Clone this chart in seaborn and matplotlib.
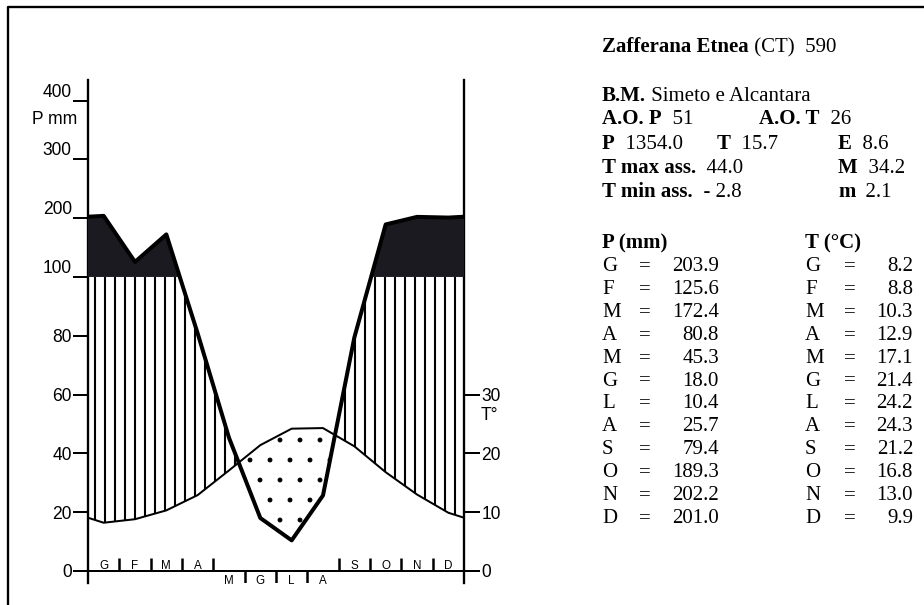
import numpy as np
import pandas as pd
import matplotlib
matplotlib.use("Agg")
import matplotlib.pyplot as plt
import seaborn as sns
from matplotlib.patches import Rectangle

# dati mensili (G ... D)
months = ["G", "F", "M", "A", "M", "G", "L", "A", "S", "O", "N", "D"]
prec = [203.9, 125.6, 172.4, 80.8, 45.3, 18.0, 10.4, 25.7, 79.4, 189.3, 202.2, 201.0]
temp = [8.2, 8.8, 10.3, 12.9, 17.1, 21.4, 24.2, 24.3, 21.2, 16.8, 13.0, 9.9]
dry = [False, False, False, False, True, True, True, True, False, False, False, False]

p_ticks = [0, 20, 40, 60, 80, 100, 200, 300, 400]
t_ticks = [0, 10, 20, 30]

station = "Zafferana Etnea"
header = [
    [("B.M.", True), (" Simeto e Alcantara", False)],
]

sns.set_theme(style="white")
plt.rcParams["font.family"] = ["Liberation Sans", "DejaVu Sans"]
plt.rcParams["text.color"] = "black"
plt.rcParams["axes.edgecolor"] = "black"
plt.rcParams["xtick.color"] = "black"
plt.rcParams["ytick.color"] = "black"

# curva chiusa ai bordi con la media dic/gen
df = pd.DataFrame({"x": np.arange(12) + 0.5, "P": prec, "T2": np.array(temp) * 2})
p_edge = (prec[0] + prec[-1]) / 2
t_edge = (temp[0] + temp[-1])  # (media) * 2
edge = pd.DataFrame({"x": [0.0, 12.0], "P": [p_edge, p_edge], "T2": [t_edge, t_edge]})
curve = pd.concat([edge.iloc[:1], df, edge.iloc[1:]]).reset_index(drop=True)
x = curve["x"].values
P = curve["P"].values
T2 = curve["T2"].values


# scala Walter-Lieth: sopra 100 mm compressa 1:5
def fwd(y):
    y = np.asarray(y, dtype=float)
    return np.where(y > 100, 100 + (y - 100) * 0.2, y)


def inv(y):
    y = np.asarray(y, dtype=float)
    return np.where(y > 100, 100 + (y - 100) * 5.0, y)


# punti dove la curva P attraversa 100 mm (nella scala disegnata)
xa, pa = [x[0]], [P[0]]
for i in range(1, len(x)):
    a, b = float(fwd(P[i - 1])), float(fwd(P[i]))
    if (a - 100) * (b - 100) < 0:
        t = (a - 100) / (a - b)
        xa.append(x[i - 1] + t * (x[i] - x[i - 1]))
        pa.append(100.0)
    xa.append(x[i])
    pa.append(P[i])
xa, pa = np.array(xa), np.array(pa)

fig = plt.figure(figsize=(924 / 120, 605 / 120), dpi=120)

# livello testo in coordinate pixel
tx = fig.add_axes([0, 0, 1, 1])
tx.set_xlim(0, 924)
tx.set_ylim(605, 0)
tx.set_axis_off()
tx.plot([8, 8, 924], [605, 7, 7], color="black", lw=1.4)

ax = fig.add_axes([88 / 924, 22 / 605, 376 / 924, 503 / 605])
ax.set_yscale("function", functions=(fwd, inv))

ylo, yhi = -4.1, 435

ax.fill_between(xa, 100, pa, where=pa >= 100, color="#1c1a21", lw=0, zorder=3)

plt.rcParams["hatch.linewidth"] = 0.5
arid = ax.fill_between(x, P, T2, where=T2 >= P, interpolate=True,
                       facecolor="white", edgecolor="black", hatch=".", lw=0, zorder=2)
if hasattr(arid, "set_hatch_linewidth"):
    arid.set_hatch_linewidth(0.5)

plt.rcParams["hatch.linewidth"] = 1.25
wet = ax.fill_between(x, T2, P, where=P >= T2, interpolate=True,
                      facecolor="none", edgecolor="black", hatch="||", lw=0, zorder=2)
wet.set_clip_path(Rectangle((0, -10), 12, 110, transform=ax.transData))
if hasattr(wet, "set_hatch_linewidth"):
    wet.set_hatch_linewidth(1.25)

sns.lineplot(data=curve, x="x", y="T2", color="black", lw=1.2, ax=ax, zorder=4)
sns.lineplot(data=curve, x="x", y="P", color="black", lw=2.4, ax=ax, zorder=5)

ax.axhline(0, color="black", lw=1.2, zorder=5)

bounds = np.arange(1, 12)
down = np.array([dry[i - 1] and dry[i] for i in bounds])
ax.vlines(bounds[~down], 0, 4.4, color="black", lw=1.5, zorder=5)
ax.vlines(bounds[down], -4.1, 0, color="black", lw=1.5, zorder=5)

for i, (m, d) in enumerate(zip(months, dry)):
    if d:
        ax.text(i + 0.5, -1.3, m, ha="center", va="top", fontsize=7)
    else:
        ax.text(i + 0.5, 0.7, m, ha="center", va="baseline", fontsize=7)

ax.set_xlim(0, 12)
ax.set_ylim(ylo, yhi)
ax.set_xlabel("")
ax.set_ylabel("")
ax.set_xticks([])
ax.set_yticks(p_ticks)
ax.set_yticklabels([str(v) for v in p_ticks])
ax.tick_params(axis="y", left=True, direction="out", length=9, width=1.2,
               pad=0.8, labelsize=10.5)
for lab, v in zip(ax.get_yticklabels(), p_ticks):
    if v >= 100:
        lab.set_va("bottom")
for s in ["top", "bottom"]:
    ax.spines[s].set_visible(False)
for s in ["left", "right"]:
    ax.spines[s].set_linewidth(1.4)
ax.patch.set_alpha(0)

tw = ax.twinx()
tw.set_yscale("function", functions=(fwd, inv))
tw.set_ylim(ylo, yhi)
tw.set_yticks([2 * t for t in t_ticks])
tw.set_yticklabels([str(t) for t in t_ticks])
tw.tick_params(axis="y", right=True, direction="out", length=9.5, width=1.2,
               pad=0.8, labelsize=10.5)
for s in tw.spines.values():
    s.set_visible(False)

tx.text(77, 119, "P mm", ha="right", va="center", fontsize=10.5)
tx.text(481, 415, "T°", ha="left", va="center", fontsize=10.5)

# pannello dati a destra
serif = ["Liberation Serif", "DejaVu Serif"]
fs = 12.5


def put(xp, yp, parts):
    prev = None
    for s, bold in parts:
        w = "bold" if bold else "normal"
        if prev is None:
            prev = tx.text(xp, yp, s, fontweight=w, family=serif, fontsize=fs,
                           ha="left", va="baseline")
        else:
            prev = tx.annotate(s, xy=(1, 0), xycoords=prev, fontweight=w,
                               family=serif, fontsize=fs, ha="left", va="bottom")
    return prev


put(602, 52, [(station, True), (" (CT)  590", False)])
put(602, 101, header[0])
put(602, 124, [("A.O. P", True), ("  51", False)])
put(759, 124, [("A.O. T", True), ("  26", False)])
put(602, 149, [("P", True), ("  1354.0", False)])
put(717, 149, [("T", True), ("  15.7", False)])
put(838, 149, [("E", True), ("  8.6", False)])
put(602, 173, [("T max ass.", True), ("  44.0", False)])
put(838, 173, [("M", True), ("  34.2", False)])
put(602, 197, [("T min ass.", True), ("  - 2.8", False)])
put(838, 197, [("m", True), ("  2.1", False)])

put(602, 248, [("P (mm)", True)])
put(805, 248, [("T (°C)", True)])
for i, m in enumerate(months):
    yb = 271 + 22.9 * i
    tx.text(602, yb, m, family=serif, fontsize=fs, ha="left", va="baseline")
    tx.text(645, yb, "=", family=serif, fontsize=fs, ha="center", va="baseline")
    tx.text(719, yb, f"{prec[i]:.1f}", family=serif, fontsize=fs, ha="right", va="baseline")
    tx.text(805, yb, m, family=serif, fontsize=fs, ha="left", va="baseline")
    tx.text(850, yb, "=", family=serif, fontsize=fs, ha="center", va="baseline")
    tx.text(913, yb, f"{temp[i]:.1f}", family=serif, fontsize=fs, ha="right", va="baseline")

fig.savefig("out.png", dpi=120)
